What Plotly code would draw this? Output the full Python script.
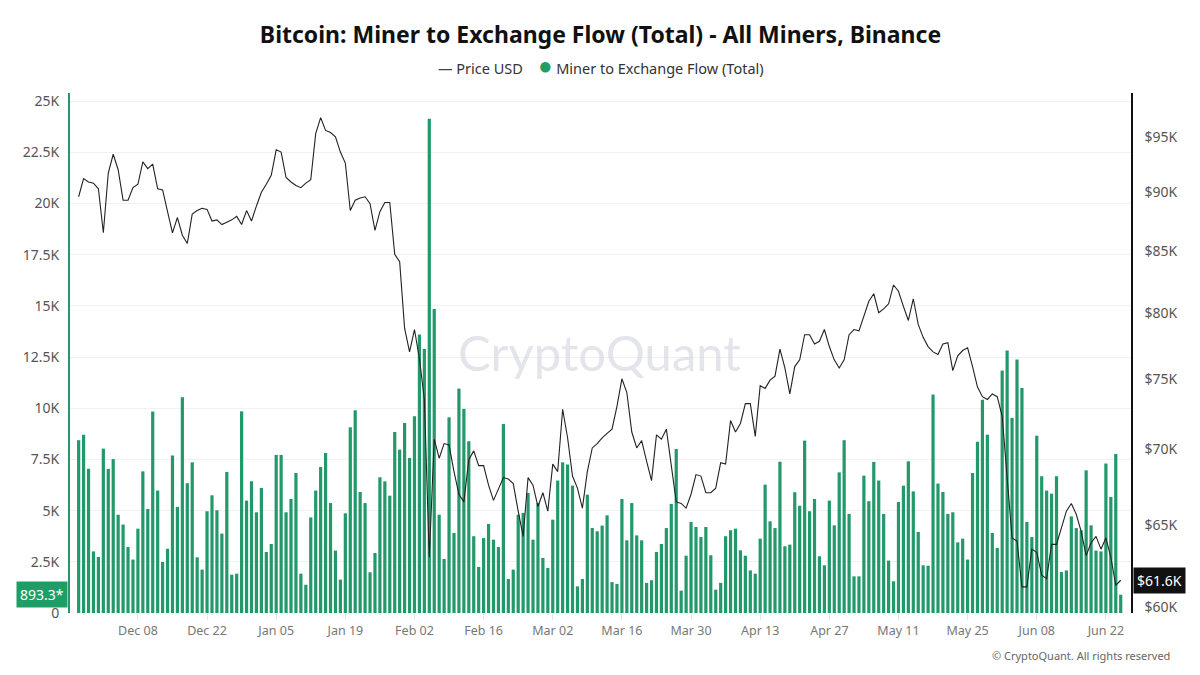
import numpy as np
import pandas as pd
import plotly.graph_objects as go

# daily Miner -> Exchange flow (BTC), Binance, all miners
flow_btc = [
    8440, 8710, 7050, 3010, 2740, 8030, 7040, 7520, 4800, 4320,
    3220, 2610, 4120, 6920, 5080, 9840, 5980, 2490, 3140, 7690,
    5180, 10540, 6340, 7360, 2720, 2120, 4970, 5750, 5020, 3880,
    6890, 1870, 1920, 9850, 5490, 6430, 4920, 6110, 2980, 3370,
    7720, 7720, 4920, 5570, 6840, 1920, 1380, 4670, 5980, 7130,
    7820, 5370, 3050, 1630, 4870, 9070, 9900, 5910, 5370, 1990,
    2930, 6630, 6430, 5730, 8840, 7980, 9280, 7570, 9610, 13600,
    12900, 24140, 14850, 4800, 2640, 9560, 3910, 10960, 9970, 8390,
    3750, 2250, 3660, 4350, 3580, 3220, 9230, 1660, 2120, 4800,
    4890, 5860, 3580, 5370, 2690, 2200, 4560, 6470, 7360, 7250,
    6220, 1300, 1660, 5780, 4150, 3990, 4270, 4770, 1510, 1420,
    5570, 3550, 5370, 3790, 3550, 1470, 1600, 2980, 3370, 4150,
    5330, 8010, 1090, 2800, 4450, 4200, 3710, 4200, 2820, 1140,
    1470, 3750, 4040, 4120, 3060, 2800, 2080, 1920, 3630, 6270,
    4480, 4150, 7390, 3260, 3340, 5900, 5240, 8420, 4970, 5570,
    2770, 2330, 5490, 4280, 6870, 8440, 4840, 1790, 1790, 6710,
    5460, 7380, 6470, 4840, 2560, 1550, 5420, 6220, 7410, 5940,
    3960, 2330, 2310, 10670, 6320, 5910, 4840, 4920, 3450, 3630,
    2610, 6840, 8360, 10420, 8710, 3910, 3180, 11840, 12820, 9530,
    12380, 10990, 4450, 3710, 8660, 6680, 5980, 5830, 6680, 2000,
    2080, 4720, 4150, 4040, 6970, 4280, 3050, 3010, 7300, 5670,
    7770, 893.3,
]

# BTC price, USD
price_usd = [
    89600, 91200, 90900, 90800, 90300, 86500, 91700, 93400, 92000, 89300,
    89300, 90400, 90700, 92700, 92100, 92500, 90300, 90200, 88300, 86500,
    87800, 86300, 85600, 88100, 88400, 88600, 88500, 87500, 87600, 87200,
    87400, 87600, 87900, 87200, 88400, 87500, 88800, 90000, 90700, 91500,
    93800, 93600, 91300, 90900, 90600, 90400, 90800, 91100, 95300, 96800,
    95600, 95400, 95000, 93600, 92600, 88400, 89300, 89500, 89600, 89000,
    86700, 88300, 89100, 89100, 84700, 84100, 78800, 77000, 78700, 76500,
    73500, 63000, 70700, 69400, 70400, 70300, 68500, 67000, 66500, 69300,
    69900, 68900, 68900, 67600, 66600, 67400, 68100, 68000, 67700, 65900,
    64300, 68100, 67600, 66200, 67100, 65900, 69000, 68500, 72800, 70800,
    68200, 67400, 66100, 68500, 70100, 70400, 70800, 71100, 71400, 73000,
    75000, 74000, 71200, 70100, 70600, 69200, 67900, 71000, 70700, 71400,
    69000, 66500, 66400, 66100, 67000, 68300, 68200, 67100, 67100, 67400,
    69100, 69000, 72000, 71200, 71800, 73200, 73200, 70900, 74500, 74300,
    74900, 75200, 77200, 75800, 73900, 75900, 76400, 78300, 78300, 77600,
    77800, 78700, 77400, 76400, 75800, 76400, 78300, 78700, 78600, 79800,
    80900, 81500, 80000, 80300, 80700, 82200, 81700, 80500, 79400, 81100,
    79100, 78100, 77400, 77000, 76800, 77600, 77700, 75600, 76700, 77100,
    77300, 75900, 74400, 73700, 73500, 73900, 73700, 72300, 68200, 64200,
    64000, 61200, 61200, 63500, 63300, 61900, 61700, 63800, 63800, 64800,
    65900, 66400, 65700, 64600, 63100, 63900, 64300, 63500, 64200, 63000,
    61300, 61600,
]

start_date = "2025-11-26"
dates = pd.date_range(start_date, periods=len(flow_btc), freq="D")

tick_dates = ["2025-12-08", "2025-12-22", "2026-01-05", "2026-01-19", "2026-02-02",
              "2026-02-16", "2026-03-02", "2026-03-16", "2026-03-30", "2026-04-13",
              "2026-04-27", "2026-05-11", "2026-05-25", "2026-06-08", "2026-06-22"]

flow_ticks = [0, 2500, 5000, 7500, 10000, 12500, 15000, 17500, 20000, 22500, 25000]
flow_tick_text = ["0", "2.5K", "5K", "7.5K", "10K", "12.5K", "15K", "17.5K", "20K", "22.5K", "25K"]

price_ticks = [60000, 65000, 70000, 75000, 80000, 85000, 90000, 95000]
price_tick_text = ["$60K", "$65K", "$70K", "$75K", "$80K", "$85K", "$90K", "$95K"]

GREEN = "#23996b"
FONT = "Noto Sans"

fig = go.Figure()

fig.add_trace(go.Bar(x=dates, y=flow_btc, name="Miner to Exchange Flow (Total)",
                     marker_color=GREEN, marker_line_width=0, yaxis="y"))

fig.add_trace(go.Scatter(x=dates, y=price_usd, name="Price USD", mode="lines",
                         line=dict(color="#222222", width=1.1), yaxis="y2"))

# the page body adds an 8px offset, margins are set to make up for it
fig.update_layout(
    width=1200, height=675,
    margin=dict(l=62, r=77, t=85, b=70),
    paper_bgcolor="white", plot_bgcolor="white",
    showlegend=False,
    bargap=0.35,
    font=dict(family=FONT, color="#555555"),
    title=dict(text="<b>Bitcoin: Miner to Exchange Flow (Total) - All Miners, Binance</b>",
               xref="paper", x=0.5, xanchor="center", y=0.96, yanchor="middle",
               font=dict(family=FONT, size=23, color="#111111")),
    xaxis=dict(range=["2025-11-24 06:00", "2026-06-27 02:00"],
               tickvals=tick_dates, tickformat="%b %d",
               tickfont=dict(size=12.5, color="#777777"),
               showgrid=False, showline=False, zeroline=False,
               ticks="outside", ticklen=6, tickcolor="#e6e6e6"),
    yaxis=dict(range=[0, 25400], tickvals=flow_ticks, ticktext=flow_tick_text,
               tickfont=dict(size=14, color="#555555"), ticklabelstandoff=6,
               showgrid=True, gridcolor="#f1f1f1", zeroline=False,
               showline=True, linecolor=GREEN, linewidth=2, ticks=""),
    yaxis2=dict(type="log", overlaying="y", side="right",
                range=[np.log10(59660), np.log10(99160)],
                tickvals=price_ticks, ticktext=price_tick_text,
                tickfont=dict(size=14, color="#555555"), ticklabelstandoff=9,
                showgrid=False, zeroline=False,
                showline=True, linecolor="#111111", linewidth=1.5, ticks=""),
)

# legend drawn as a centred text line under the title
fig.add_annotation(
    text="<span style='color:#444444'>\u2014</span> Price USD&nbsp;&nbsp;&nbsp;&nbsp;"
         "<span style='color:#1e9e66;font-size:24px'>\u25cf</span> Miner to Exchange Flow (Total)",
    xref="paper", yref="paper", x=0.5, y=1.054, xanchor="center", yanchor="middle",
    showarrow=False, font=dict(family=FONT, size=14.5, color="#333333"))

# watermark
fig.add_annotation(text="CryptoQuant", xref="paper", yref="paper", x=0.4995, y=0.502,
                   xanchor="center", yanchor="middle", showarrow=False,
                   font=dict(family="Lato", size=49, color="rgba(205,207,218,0.55)"))

fig.add_annotation(text="\u00a9 CryptoQuant. All rights reserved", xref="paper", yref="paper",
                   x=1.0385, y=-0.081, xanchor="right", yanchor="middle", showarrow=False,
                   font=dict(family=FONT, size=11, color="#666666"))

# last value badges on both axes
fig.add_annotation(text="%.1f*" % flow_btc[-1], xref="paper", yref="y", x=0, y=flow_btc[-1],
                   xanchor="right", yanchor="middle", xshift=-2, showarrow=False,
                   bgcolor="#1e9e66", borderpad=3,
                   font=dict(family=FONT, size=14, color="white"))

fig.add_annotation(text="$%.1fK" % (price_usd[-1] / 1000), xref="paper", yref="y2", x=1,
                   y=np.log10(price_usd[-1]), xanchor="left", yanchor="middle", xshift=2,
                   showarrow=False, bgcolor="#111111", borderpad=3,
                   font=dict(family=FONT, size=14, color="white"))

fig.write_html("out.html")
